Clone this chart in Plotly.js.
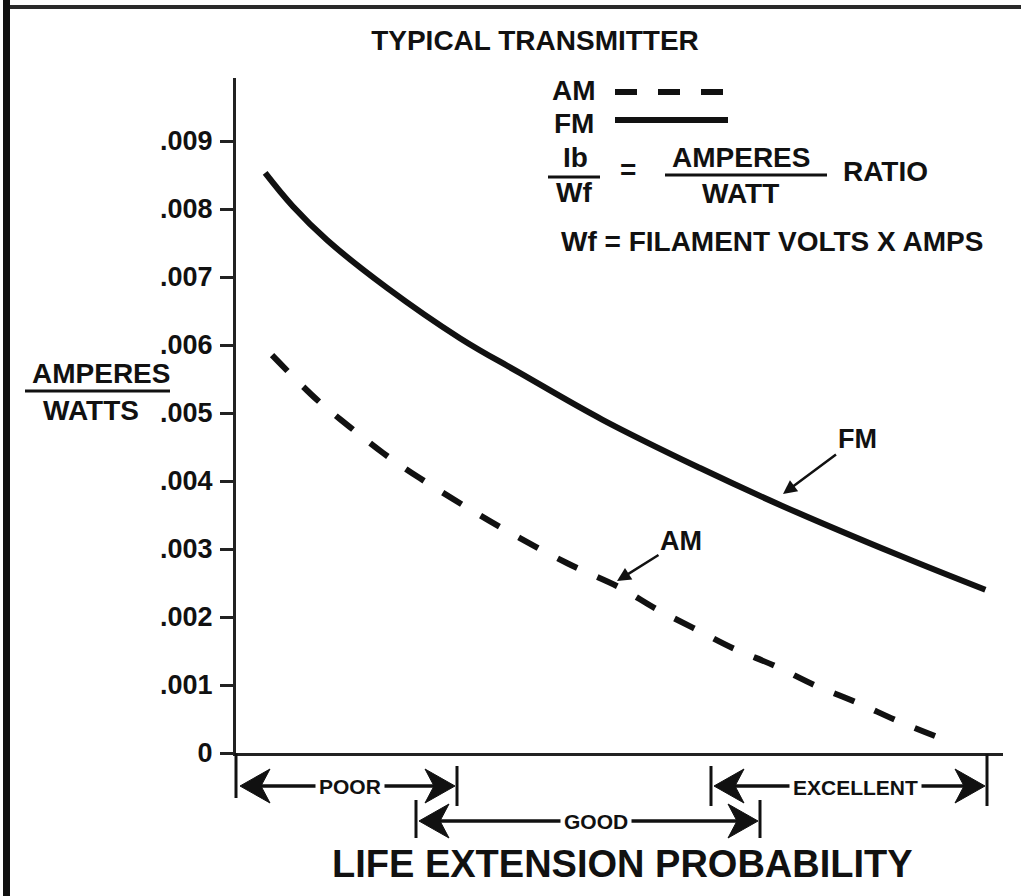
<!DOCTYPE html>
<html>
<head>
<meta charset="utf-8">
<script src="https://cdn.plot.ly/plotly-3.0.1.min.js"></script>
<style>
html,body{margin:0;padding:0;background:#fff;}
#chart{width:1021px;height:896px;}
</style>
</head>
<body>
<div id="chart"></div>
<script>
// ---- data ----
const fmX = [3.8, 7.4, 11.9, 19.7, 29.2, 37.0, 47.8, 60.5, 71.3, 86.6, 97.7];
const fmY = [0.00853, 0.00804, 0.00754, 0.00684, 0.00610, 0.00559, 0.00490, 0.00419, 0.00363, 0.00290, 0.00240];
const amX = [4.7, 10.6, 14.9, 19.2, 24.0, 33.1, 43.2, 50.1, 54.6, 59.6, 64.8, 70.3, 75.6, 81.0, 86.3, 91.8];
const amY = [0.00585, 0.00519, 0.00479, 0.00441, 0.00404, 0.00341, 0.00279, 0.00243, 0.00213, 0.00184, 0.00154, 0.00128, 0.00099, 0.00074, 0.00047, 0.00022];
const yTickVals = [0, 0.001, 0.002, 0.003, 0.004, 0.005, 0.006, 0.007, 0.008, 0.009];
const yTickText = ['0', '.001', '.002', '.003', '.004', '.005', '.006', '.007', '.008', '.009'];
const seriesNames = ['FM', 'AM'];
const rangeLabels = ['POOR', 'GOOD', 'EXCELLENT'];

// ---- layout helpers (pixel -> paper) ----
const W = 1021, H = 896;
const L = 236, R = 1003, T = 78, B = 753;
const px = x => (x - L) / (R - L);
const py = y => (B - y) / (B - T);
const FONT = 'Liberation Sans, Arial, Helvetica, sans-serif';
const INK = '#111';

function line(x0, y0, x1, y1, w, dash) {
  return {type: 'line', xref: 'paper', yref: 'paper',
    x0: px(x0), y0: py(y0), x1: px(x1), y1: py(y1),
    line: {color: INK, width: w, dash: dash || 'solid'}};
}
function rect(x0, y0, x1, y1, c) {
  return {type: 'rect', xref: 'paper', yref: 'paper',
    x0: px(x0), y0: py(y0), x1: px(x1), y1: py(y1),
    fillcolor: c, line: {width: 0}};
}
function dart(tx, ty, dir) { // dir -1 = points left, +1 = points right
  const len = 30, half = 17, notch = 21;
  const pts = [[tx, ty], [tx - dir * len, ty - half], [tx - dir * notch, ty], [tx - dir * len, ty + half]];
  const p = pts.map((q, i) => (i ? 'L' : 'M') + px(q[0]) + ',' + py(q[1])).join(' ') + ' Z';
  return {type: 'path', xref: 'paper', yref: 'paper', path: p, fillcolor: INK, line: {color: INK, width: 1}};
}
function label(text, x, y, size, extra) {
  return Object.assign({text: text, xref: 'paper', yref: 'paper', x: px(x), y: py(y),
    xanchor: 'center', yanchor: 'middle', showarrow: false,
    font: {family: FONT, size: size, color: INK, weight: 'bold'}}, extra || {});
}

const traces = [
  {x: fmX, y: fmY, name: seriesNames[0], type: 'scatter', mode: 'lines',
   line: {color: INK, width: 6, shape: 'spline', smoothing: 1.1}, hoverinfo: 'skip'},
  {x: amX, y: amY, name: seriesNames[1], type: 'scatter', mode: 'lines',
   line: {color: INK, width: 6, dash: '22px,22px', shape: 'spline', smoothing: 1.0}, hoverinfo: 'skip'}
];

const shapes = [
  rect(3, 0, 10, 896, '#111'),
  rect(10, 5, 1021, 9, '#2a2a2a'),
  // bracket bars
  line(236, 753, 236, 798, 3),
  line(457, 766, 457, 806, 3),
  line(711, 766, 711, 806, 3),
  line(987, 754, 987, 806, 3),
  line(416, 800, 416, 838, 3),
  line(760, 800, 760, 838, 3),
  // arrow shafts
  line(250, 786, 447, 786, 3.5),
  line(722, 786, 978, 786, 3.5),
  line(427, 821, 751, 821, 3.5),
  dart(240, 786, -1), dart(455, 786, 1),
  dart(714, 786, -1), dart(985, 786, 1),
  dart(419, 821, -1), dart(758, 821, 1),
  // legend key
  line(615, 92, 724, 92, 6, '22px,21px'),
  line(615, 120, 728, 120, 6),
  line(548, 177, 600, 177, 3),
  line(665, 175, 827, 175, 3),
  // y label fraction bar
  line(25, 391, 170, 391, 3)
];

const annotations = [
  label('AM', 574, 90, 28),
  label('FM', 574, 123, 28),
  label('Ib', 575, 158, 28),
  label('Wf', 574, 192, 28),
  label('=', 628, 170, 28),
  label('AMPERES', 741, 158, 28),
  label('WATT', 740, 194, 28),
  label('RATIO', 885, 171, 28),
  label('Wf = FILAMENT VOLTS X AMPS', 772, 241, 28),
  label('AMPERES', 101, 373, 28),
  label('WATTS', 91, 410, 28),
  label(rangeLabels[0], 350, 786, 21, {bgcolor: '#fff', borderpad: 3}),
  label(rangeLabels[2], 855, 787, 21, {bgcolor: '#fff', borderpad: 3}),
  label(rangeLabels[1], 596, 821, 21, {bgcolor: '#fff', borderpad: 3}),
  label('LIFE EXTENSION PROBABILITY', 622, 864, 38),
  label(seriesNames[0], 783, 494, 27, {showarrow: true, ax: 74, ay: -55, arrowhead: 2, arrowsize: 1.1,
    arrowwidth: 2.5, arrowcolor: INK, standoff: 0}),
  label(seriesNames[1], 617, 581, 27, {showarrow: true, ax: 64, ay: -40, arrowhead: 2, arrowsize: 1.1,
    arrowwidth: 2.5, arrowcolor: INK, standoff: 0})
];

const layout = {
  width: W, height: H,
  margin: {l: L, r: W - R, t: T, b: H - B, pad: 0},
  paper_bgcolor: '#fff', plot_bgcolor: '#fff',
  showlegend: false,
  title: {text: 'TYPICAL TRANSMITTER', xref: 'container', yref: 'container',
    x: 535 / W, xanchor: 'center', y: 1 - 40 / H, yanchor: 'middle',
    font: {family: FONT, size: 28, color: INK, weight: 'bold'}},
  xaxis: {range: [0, 100], showline: true, linecolor: '#222', linewidth: 3,
    showgrid: false, zeroline: false, ticks: '', showticklabels: false, fixedrange: true},
  yaxis: {range: [0, (B - T) / 68000], showline: true, linecolor: '#222', linewidth: 3,
    showgrid: false, zeroline: false, ticks: 'outside', ticklen: 13, tickwidth: 3, tickcolor: '#222',
    tickvals: yTickVals, ticktext: yTickText, ticklabelstandoff: 2,
    tickfont: {family: FONT, size: 27, color: INK, weight: 'bold'}, fixedrange: true},
  shapes: shapes,
  annotations: annotations
};

Plotly.newPlot('chart', traces, layout, {displayModeBar: false, staticPlot: true});
</script>
</body>
</html>
